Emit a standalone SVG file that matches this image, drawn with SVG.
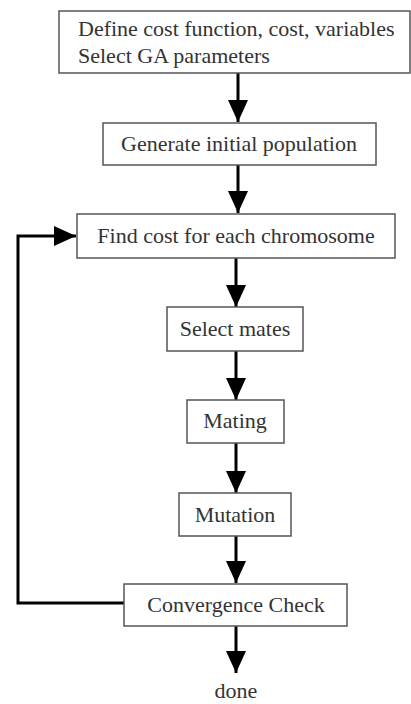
<svg xmlns="http://www.w3.org/2000/svg" width="411" height="704" viewBox="0 0 411 704">
<style>
.box{fill:#fff;stroke:#555;stroke-width:1.5}
.t{font-family:"Liberation Serif","Times New Roman",serif;font-size:22px;fill:#333}
.c{text-anchor:middle}
.ln{fill:none;stroke:#000;stroke-width:3}
</style>
<defs>
<marker id="ah" markerUnits="userSpaceOnUse" markerWidth="22" markerHeight="20" refX="22" refY="10" orient="auto">
<path d="M0,0 L22,10 L0,20 Z" fill="#000"/>
</marker>
</defs>
<rect width="411" height="704" fill="#fff"/>
<g id="connectors">
<line class="ln" x1="238" y1="73" x2="238" y2="122" marker-end="url(#ah)"/>
<line class="ln" x1="238" y1="165" x2="238" y2="213" marker-end="url(#ah)"/>
<line class="ln" x1="236" y1="258" x2="236" y2="307" marker-end="url(#ah)"/>
<line class="ln" x1="236" y1="351" x2="236" y2="400" marker-end="url(#ah)"/>
<line class="ln" x1="236" y1="443" x2="236" y2="493" marker-end="url(#ah)"/>
<line class="ln" x1="236" y1="536" x2="236" y2="583" marker-end="url(#ah)"/>
<line class="ln" x1="236" y1="626" x2="236" y2="673" marker-end="url(#ah)"/>
<polyline class="ln" points="124,603 18,603 18,236 76,236" marker-end="url(#ah)"/>
</g>
<g id="n1"><rect class="box" x="59" y="11" width="351" height="62"/>
<text class="t" x="78" y="36">Define cost function, cost, variables</text>
<text class="t" x="78" y="63">Select GA parameters</text></g>
<g id="n2"><rect class="box" x="103" y="123" width="273" height="42"/>
<text class="t c" x="239" y="151">Generate initial population</text></g>
<g id="n3"><rect class="box" x="77" y="214" width="318" height="44"/>
<text class="t c" x="236" y="243">Find cost for each chromosome</text></g>
<g id="n4"><rect class="box" x="167" y="307" width="136" height="44"/>
<text class="t c" x="235" y="336">Select mates</text></g>
<g id="n5"><rect class="box" x="187" y="400" width="97" height="43"/>
<text class="t c" x="235" y="428">Mating</text></g>
<g id="n6"><rect class="box" x="179" y="493" width="112" height="43"/>
<text class="t c" x="235" y="522">Mutation</text></g>
<g id="n7"><rect class="box" x="124" y="584" width="223" height="42"/>
<text class="t c" x="236" y="612">Convergence Check</text></g>
<g id="n8"><text class="t c" x="236" y="698">done</text></g>
</svg>
